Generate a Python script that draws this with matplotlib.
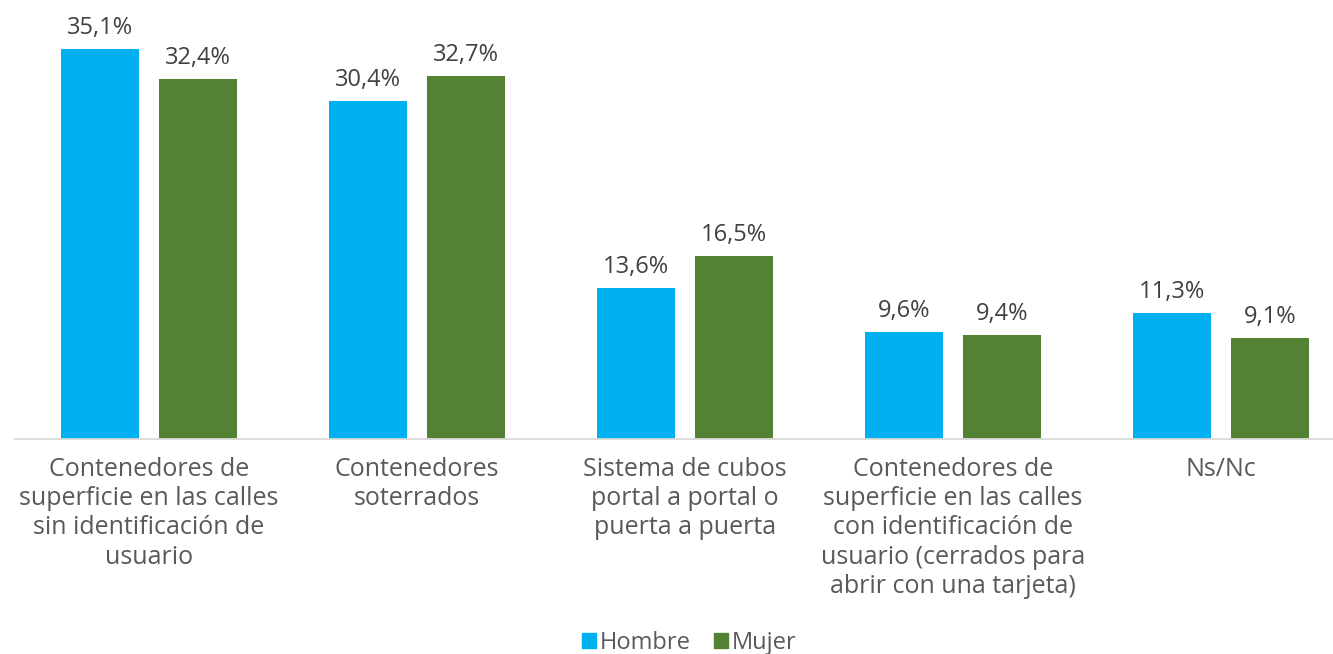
import numpy as np
import matplotlib
matplotlib.use("Agg")
import matplotlib.pyplot as plt
from matplotlib.patches import Patch

categorias = [
    "Contenedores de\nsuperficie en las calles\nsin identificación de\nusuario",
    "Contenedores\nsoterrados",
    "Sistema de cubos\nportal a portal o\npuerta a puerta",
    "Contenedores de\nsuperficie en las calles\ncon identificación de\nusuario (cerrados para\nabrir con una tarjeta)",
    "Ns/Nc",
]
hombre = [35.1, 30.4, 13.6, 9.6, 11.3]
mujer = [32.4, 32.7, 16.5, 9.4, 9.1]
series = ["Hombre", "Mujer"]
colores = ["#00B0F0", "#548235"]

plt.rcParams["font.family"] = ["Open Sans", "DejaVu Sans"]

W, H = 1333, 654
fig = plt.figure(figsize=(W / 100, H / 100), dpi=100)
# eje: base en y=439 px, de x=15 px hasta el borde derecho
ax = fig.add_axes([15 / W, (H - 439) / H, (W - 15) / W, 420 / H])

x = np.arange(len(categorias))
ancho = 0.291
desp = 0.184
for vals, nombre, col, d in zip([hombre, mujer], series, colores, [-desp, desp]):
    barras = ax.bar(x + d, vals, width=ancho, color=col, label=nombre)
    for b, v in zip(barras, vals):
        ax.annotate(f"{v:.1f}%".replace(".", ","),
                    (b.get_x() + b.get_width() / 2, v),
                    xytext=(0, 6.5), textcoords="offset points",
                    ha="center", va="bottom", fontsize=17, color="#404040")

ax.set_xlim(-0.5, 4.5 - 22 / 268)
ax.set_ylim(0, 420 / 11.11)
ax.set_yticks([])
ax.set_xticks(x)
ax.set_xticklabels(categorias, fontsize=18, color="#595959", linespacing=1.22)
ax.tick_params(axis="x", length=0, pad=13)
for s in ["top", "right", "left"]:
    ax.spines[s].set_visible(False)
ax.spines["bottom"].set_color("#D9D9D9")
ax.spines["bottom"].set_linewidth(1.3)

handles = [Patch(color=c, label=n) for n, c in zip(series, colores)]
fig.legend(handles=handles, loc="center", bbox_to_anchor=(0.517, 1 - 643 / H),
           ncol=2, frameon=False, fontsize=17, handlelength=0.6, handleheight=0.6,
           handletextpad=0.15, columnspacing=1.0, labelcolor="#595959")

fig.savefig("out.png", dpi=100)
